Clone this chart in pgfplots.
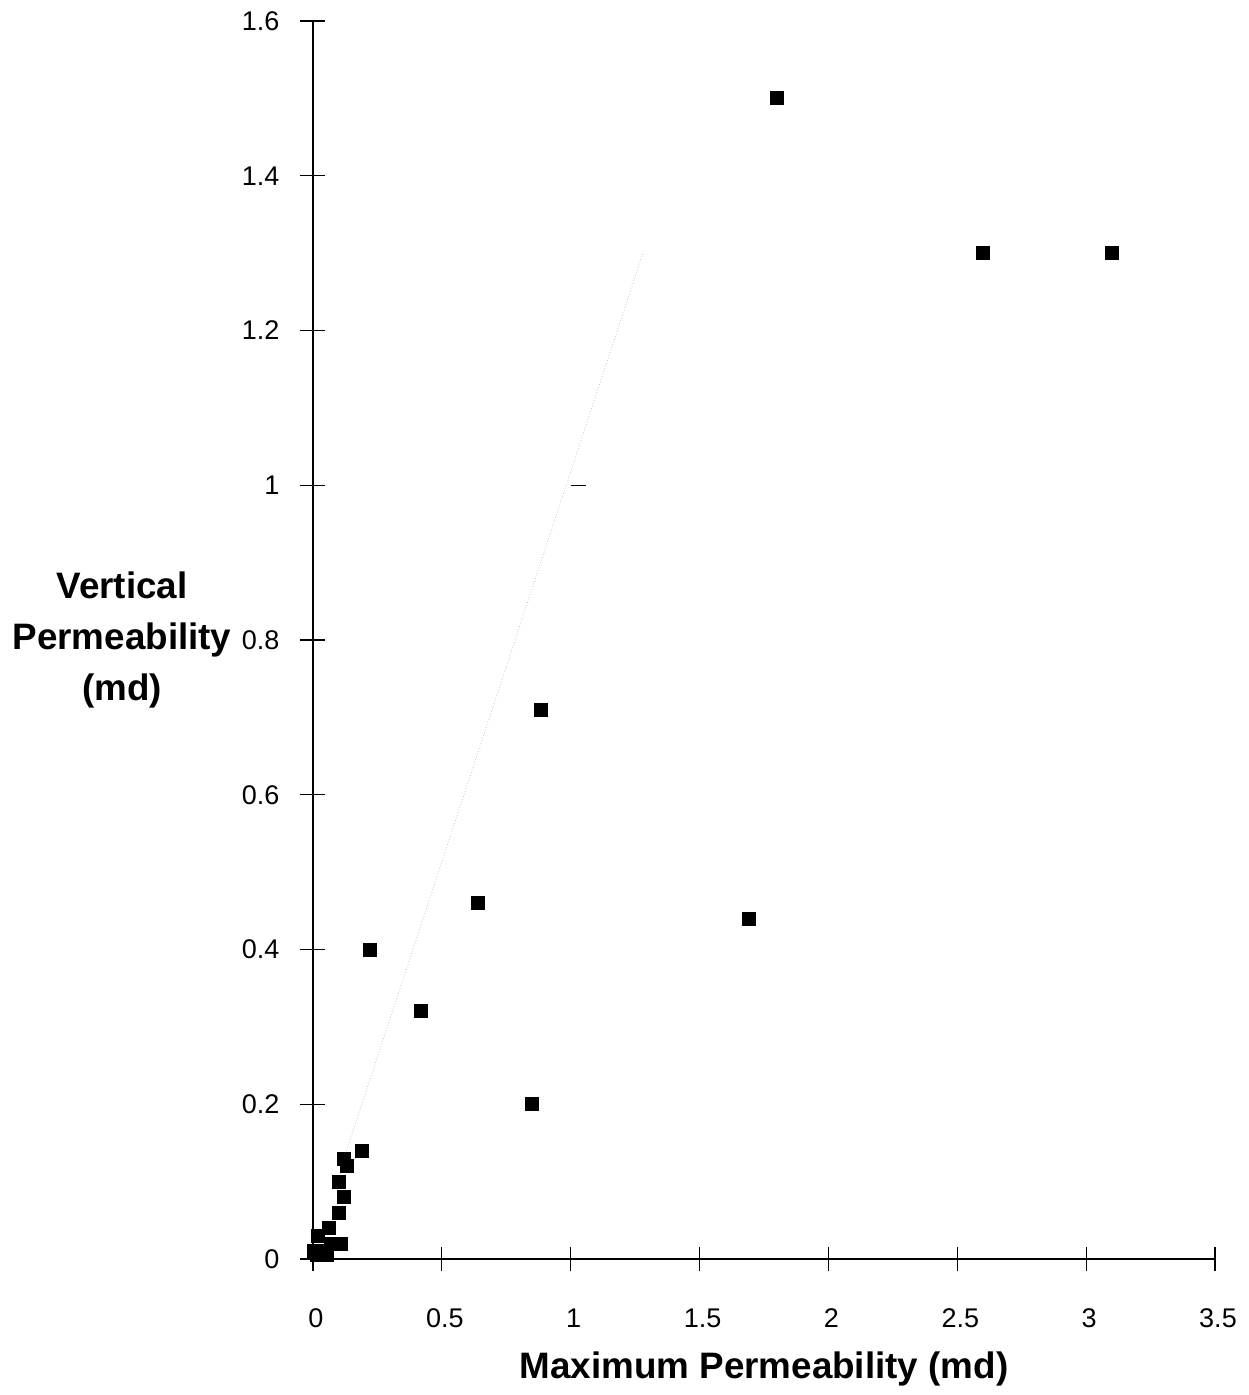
\documentclass[border=0pt]{standalone}
\usepackage{pgfplots}
\pgfplotsset{compat=1.18}
\usepackage{fontspec}
\setmainfont{Liberation Sans}

\begin{document}
\begin{tikzpicture}
\begin{axis}[
  scale only axis,
  width=451pt,height=619pt,
  xmin=0,xmax=3.5,ymin=0,ymax=1.6,
  axis x line*=bottom,axis y line*=left,
  xtick={0,0.5,...,3.5},ytick={0,0.2,...,1.6},
  tick align=center,major tick length=12.5pt,
  every tick/.style={black,line width=0.6pt},
  axis line style={line width=0.6pt},
  /pgf/number format/assume math mode=true,
  tick label style={font=\fontsize{13.5}{15}\selectfont},
  xticklabel style={yshift=-15pt,xshift=1.5pt},
  yticklabel style={xshift=-7pt},
  xlabel={\bfseries Maximum Permeability (md)},
  ylabel={\bfseries Vertical\\\bfseries Permeability\\\bfseries (md)},
  every axis x label/.style={at={(rel axis cs:0.5,0)},anchor=center,yshift=-55pt,
    font=\fontsize{18.4}{22}\selectfont},
  every axis y label/.style={at={(rel axis cs:0,0.5)},anchor=center,xshift=-95.5pt,
    align=center,font=\fontsize{18.4}{25.5}\selectfont},
  clip=false
]
% faint 1:1 trace
\addplot[gray!45,densely dotted,line width=0.4pt] coordinates {(0.13,0.14) (1.28,1.3)};
\addplot[black,line width=0.5pt] coordinates {(1.0,1.0) (1.06,1.0)};
\addplot[only marks,mark=square*,mark size=3.25pt,black] coordinates {
  (1.80,1.50) (2.60,1.30) (3.10,1.30)
  (0.885,0.71) (0.64,0.46) (1.69,0.44)
  (0.22,0.40) (0.42,0.32) (0.85,0.20)
  (0.19,0.14) (0.12,0.13) (0.13,0.12) (0.10,0.10)
  (0.12,0.08) (0.10,0.06) (0.06,0.04) (0.02,0.03)
  (0.11,0.02) (0.07,0.02) (0.005,0.01) (0.03,0.01)
  (0.055,0.005) (0.015,0.005)
};
\coordinate (O) at (rel axis cs:0,0);
\coordinate (T) at (rel axis cs:1,1);
\end{axis}
\pgfresetboundingbox
\path ([xshift=-156.5pt,yshift=-68pt]O) rectangle ([xshift=17pt,yshift=10.5pt]T);
\end{tikzpicture}
\end{document}
